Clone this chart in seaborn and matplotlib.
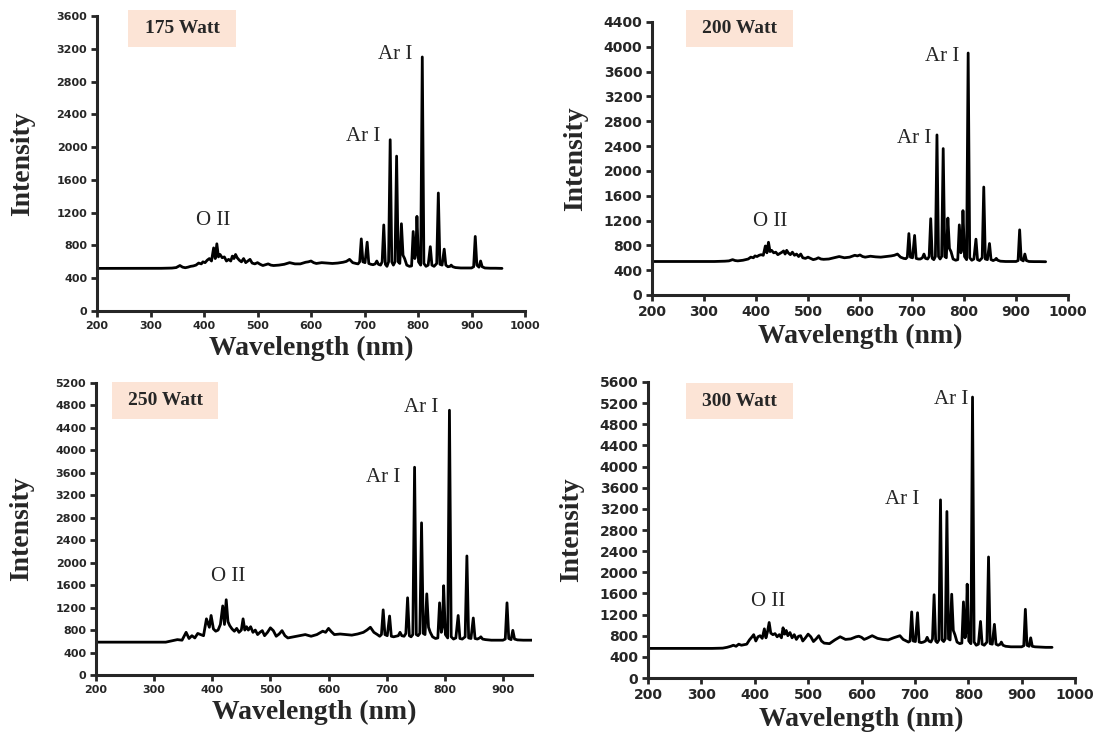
import numpy as np
import matplotlib
matplotlib.use("Agg")
from matplotlib import pyplot as plt
from matplotlib.patches import Rectangle
import seaborn as sns

# shared wavelength grid (nm)
wavelength = [
    200, 260, 320, 340, 348, 355, 360, 365, 370, 375,
    380, 385, 390, 395, 398, 402, 406, 410, 414, 418,
    421, 424, 427, 430, 434, 438, 442, 446, 450, 453,
    456, 459, 462, 466, 470, 474, 478, 482, 486, 490,
    495, 500, 505, 510, 515, 520, 525, 530, 540, 550,
    560, 570, 580, 590, 595, 600, 605, 610, 620, 630,
    640, 650, 660, 666, 672, 678, 684, 688, 691, 694,
    697, 701, 705, 708, 712, 716, 720, 723, 726, 730,
    733, 736, 739, 742, 745, 748, 751, 754, 757, 760,
    763, 766, 769, 772, 775, 779, 784, 788, 791, 794,
    796, 798, 801, 805, 808, 811, 815, 819, 823, 826,
    830, 835, 838, 841, 845, 849, 852, 856, 860, 862,
    865, 870, 880, 890, 900, 904, 907, 910, 914, 917,
    920, 925, 935, 945, 957,
]

intensity_175 = [
    520, 520, 521, 524, 530, 555, 535, 528, 535, 545,
    550, 560, 585, 575, 600, 590, 620, 640, 610, 770,
    640, 820, 660, 690, 650, 660, 610, 630, 610, 670,
    640, 690, 650, 620, 600, 640, 590, 610, 630, 585,
    575, 590, 570, 555, 565, 575, 560, 555, 560, 570,
    590, 575, 575, 595, 600, 610, 590, 580, 590, 585,
    580, 585, 595, 605, 630, 590, 580, 575, 600, 880,
    600, 590, 840, 580, 570, 565, 575, 610, 570, 560,
    600, 1050, 570, 545, 600, 2090, 600, 560, 600, 1890,
    600, 580, 1065, 680, 640, 560, 545, 550, 970, 640,
    700, 1155, 600, 560, 3100, 580, 545, 560, 785, 560,
    545, 580, 1440, 570, 560, 755, 560, 540, 545, 560,
    540, 530, 525, 525, 525, 540, 910, 560, 535, 610,
    540, 525, 522, 522, 520,
]

intensity_200 = [
    540, 540, 540, 545, 550, 570, 555, 550, 555, 560,
    570, 580, 610, 600, 630, 620, 640, 650, 640, 790,
    680, 850, 700, 720, 680, 690, 650, 670, 690, 710,
    660, 720, 680, 650, 690, 640, 660, 620, 660, 600,
    590, 610, 590, 570, 580, 600, 580, 575, 580, 600,
    620, 600, 610, 640, 630, 645, 620, 610, 625, 615,
    610, 620, 630, 640, 660, 610, 590, 585, 610, 990,
    610, 600, 960, 590, 580, 580, 600, 660, 590, 580,
    620, 1230, 590, 570, 620, 2580, 620, 580, 620, 2360,
    620, 600, 1240, 750, 700, 580, 560, 570, 1130, 680,
    750, 1360, 620, 570, 3900, 600, 560, 580, 900, 570,
    555, 600, 1740, 580, 570, 830, 570, 555, 570, 590,
    560, 545, 540, 540, 540, 555, 1050, 570, 550, 660,
    555, 540, 538, 538, 536,
]

intensity_250 = [
    585, 585, 585, 630, 620, 760, 650, 700, 660, 740,
    720, 700, 1000, 850, 1060, 820, 780, 800, 900, 1230,
    900, 1340, 950, 880, 820, 780, 830, 760, 800, 1000,
    800, 860, 800, 860, 760, 800, 720, 760, 790, 700,
    760, 840, 790, 690, 730, 790, 700, 660, 680, 700,
    720, 690, 720, 780, 760, 830, 770, 720, 730, 720,
    710, 730, 760, 800, 850, 760, 720, 690, 720, 1160,
    720, 700, 1050, 690, 680, 690, 700, 760, 700, 690,
    740, 1375, 700, 680, 720, 3700, 720, 700, 740, 2710,
    740, 720, 1445, 850, 760, 680, 650, 660, 1285, 760,
    860, 1590, 720, 660, 4715, 680, 640, 660, 1060, 650,
    640, 680, 2120, 660, 650, 1015, 650, 640, 660, 680,
    640, 630, 620, 620, 620, 640, 1285, 650, 630, 795,
    640, 625, 620, 620, 620,
]

intensity_300 = [
    560, 560, 560, 565, 580, 600, 620, 600, 640, 620,
    630, 640, 720, 780, 820, 700, 780, 800, 750, 930,
    760, 880, 1050, 850, 820, 840, 780, 820, 760, 950,
    830, 900, 800, 860, 760, 820, 730, 790, 800, 700,
    760, 830, 780, 690, 740, 800, 700, 660, 650, 720,
    780, 730, 740, 780, 790, 770, 730, 750, 800, 750,
    730, 720, 760, 780, 800, 730, 700, 680, 700, 1250,
    700, 690, 1235, 680, 670, 680, 700, 770, 700, 680,
    740, 1575, 700, 670, 720, 3370, 720, 690, 740, 3150,
    740, 720, 1585, 900, 820, 680, 650, 660, 1440, 760,
    880, 1775, 700, 650, 5315, 680, 620, 640, 1070, 640,
    620, 680, 2290, 650, 640, 1015, 640, 620, 640, 680,
    620, 600, 590, 590, 590, 610, 1300, 620, 600, 760,
    600, 590, 585, 580, 580,
]

powers = ["175 Watt", "200 Watt", "250 Watt", "300 Watt"]
series = [intensity_175, intensity_200, intensity_250, intensity_300]
y_max = [3600, 4400, 5200, 5600]
x_max = [1000, 1000, 950, 1000]
x_tick_max = [1000, 1000, 900, 1000]

# label anchors (wavelength, intensity) for "O II", lower "Ar I", upper "Ar I"
o2_pos = [(417, 1100), (427, 1190), (427, 1760), (425, 1440)]
ar_low_pos = [(697, 2135), (704, 2530), (694, 3525), (676, 3370)]
ar_high_pos = [(757, 3125), (758, 3850), (759, 4755), (768, 5260)]

sns.set_style("ticks")
plt.rcParams["font.family"] = ["DejaVu Sans"]

W, H = 1095, 745
fig = plt.figure(figsize=(W / 100, H / 100), dpi=100)

# axes boxes in pixels: left, top, right, bottom
boxes_px = [(97, 16, 525, 311), (652, 22, 1068, 295),
            (96, 383, 532, 675), (648, 382, 1075, 678)]
tag_px = [(128, 10, 236, 47), (686, 10, 793, 47),
          (112, 382, 218, 419), (686, 383, 793, 419)]
tick_size = [8, 10, 8, 10]
ylab_pad = [15, 11, 15, 11]

serif = "Liberation Serif"

for i in range(4):
    l, t, r, b = boxes_px[i]
    ax = fig.add_axes([l / W, 1 - b / H, (r - l) / W, (b - t) / H])
    sns.lineplot(x=np.array(wavelength), y=np.array(series[i]), ax=ax,
                 color="black", lw=2.0, estimator=None, sort=False)
    ax.set_xlim(200, x_max[i])
    ax.set_ylim(0, y_max[i])
    ax.set_xticks(np.arange(200, x_tick_max[i] + 1, 100))
    ax.set_yticks(np.arange(0, y_max[i] + 1, 400))
    sns.despine(ax=ax)
    for s in ["left", "bottom"]:
        ax.spines[s].set_linewidth(2.2)
    ax.tick_params(direction="out", length=4, width=2, labelsize=tick_size[i], pad=3)
    for lab in ax.get_xticklabels() + ax.get_yticklabels():
        lab.set_fontweight("bold")
    ax.set_xlabel("Wavelength (nm)", fontfamily=serif, fontweight="bold",
                  fontsize=20, labelpad=4)
    ax.set_ylabel("Intensity", fontfamily=serif, fontweight="bold",
                  fontsize=20, labelpad=ylab_pad[i])

    ax.text(*o2_pos[i], "O II", fontfamily=serif, fontsize=15, ha="center", va="center")
    ax.text(*ar_low_pos[i], "Ar I", fontfamily=serif, fontsize=15, ha="center", va="center")
    ax.text(*ar_high_pos[i], "Ar I", fontfamily=serif, fontsize=15, ha="center", va="center")

    bl, bt, br, bb = tag_px[i]
    fig.patches.append(Rectangle((bl / W, 1 - bb / H), (br - bl) / W, (bb - bt) / H,
                                 transform=fig.transFigure, facecolor="#fce4d6",
                                 edgecolor="none", zorder=0))
    fig.text((bl + br) / 2 / W, 1 - (bt + bb) / 2 / H, powers[i], fontfamily=serif,
             fontweight="bold", fontsize=14, ha="center", va="center")

fig.savefig("out.png", dpi=100, facecolor="white")
